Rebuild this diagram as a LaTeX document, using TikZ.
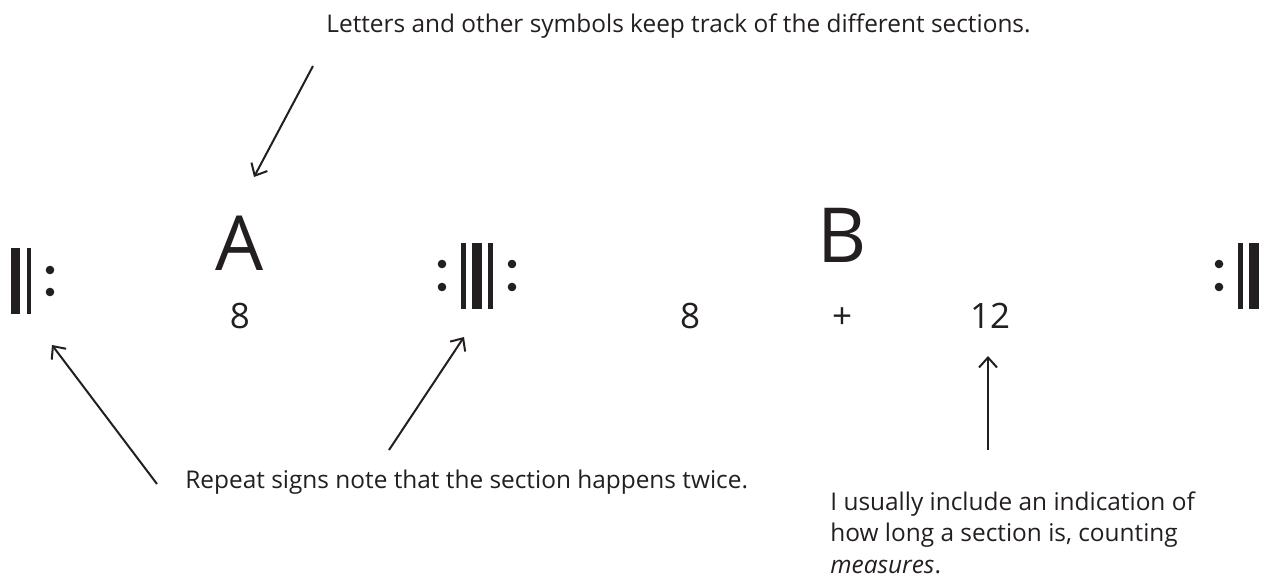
\documentclass[tikz,border=0pt]{standalone}
\usepackage{fontspec}
\setmainfont{Open Sans}
\usetikzlibrary{arrows.meta}
\definecolor{ink}{HTML}{231F20}
\tikzset{
  lbl/.style={anchor=base west, inner sep=0pt, text=ink, font=\fontsize{12.2}{15.8}\selectfont},
  big/.style={anchor=base, inner sep=0pt, text=ink, font=\fontsize{38}{40}\selectfont},
  num/.style={anchor=base, inner sep=0pt, text=ink, font=\fontsize{17.5}{20}\selectfont},
  arr/.style={draw=ink, line width=1pt, -{Straight Barb[length=5pt,width=9pt,line width=1pt]}},
  bar/.style={fill=ink, draw=none},
  dot/.style={fill=ink, draw=none}
}
\begin{document}
\begin{tikzpicture}[x=0.5pt,y=-0.5pt]
\useasboundingbox (0,0) rectangle (1267,577);
% texts
\node[lbl] (top) at (326,33) {Letters and other symbols keep track of the different sections.};
\node[lbl] (rep) at (185,488) {Repeat signs note that the section happens twice.};
\node[lbl, align=left, anchor=north west] (meas) at (830,491)
  {I usually include an indication of\\how long a section is, counting\\\textit{measures}.};
% letters and numbers
\node[big] (A) at (240,270) {A};
\node[big] (B) at (842,262) {B};
\node[num] (n8a) at (240,328) {8};
\node[num] (n8b) at (690,328) {8};
\node[num] (plus) at (842,328) {+};
\node[num] (n12) at (990,328) {12};
% left repeat sign
\fill[bar] (11,248) rectangle (20,314);
\fill[bar] (27,248) rectangle (31,314);
\fill[dot] (50,270) circle (4.3);
\fill[dot] (50,292) circle (4.3);
% middle repeat sign
\fill[dot] (442,264) circle (4.3);
\fill[dot] (442,287) circle (4.3);
\fill[bar] (461,243) rectangle (466,309);
\fill[bar] (472,243) rectangle (482,309);
\fill[bar] (488,243) rectangle (493,309);
\fill[dot] (512,264) circle (4.3);
\fill[dot] (512,287) circle (4.3);
% right repeat sign
\fill[dot] (1219,264) circle (4.3);
\fill[dot] (1219,287) circle (4.3);
\fill[bar] (1238,243) rectangle (1243,309);
\fill[bar] (1249,243) rectangle (1259,309);
% arrow endpoints
\coordinate (t1) at (313,66);
\coordinate (t2) at (254,177);
\coordinate (l1) at (157,484);
\coordinate (l2) at (52,345);
\coordinate (m1) at (389,450);
\coordinate (m2) at (464,337);
\coordinate (u1) at (988,450);
\coordinate (u2) at (988,356);
\draw[arr] (t1) -- (t2);
\draw[arr] (l1) -- (l2);
\draw[arr] (m1) -- (m2);
\draw[arr] (u1) -- (u2);
\end{tikzpicture}
\end{document}
